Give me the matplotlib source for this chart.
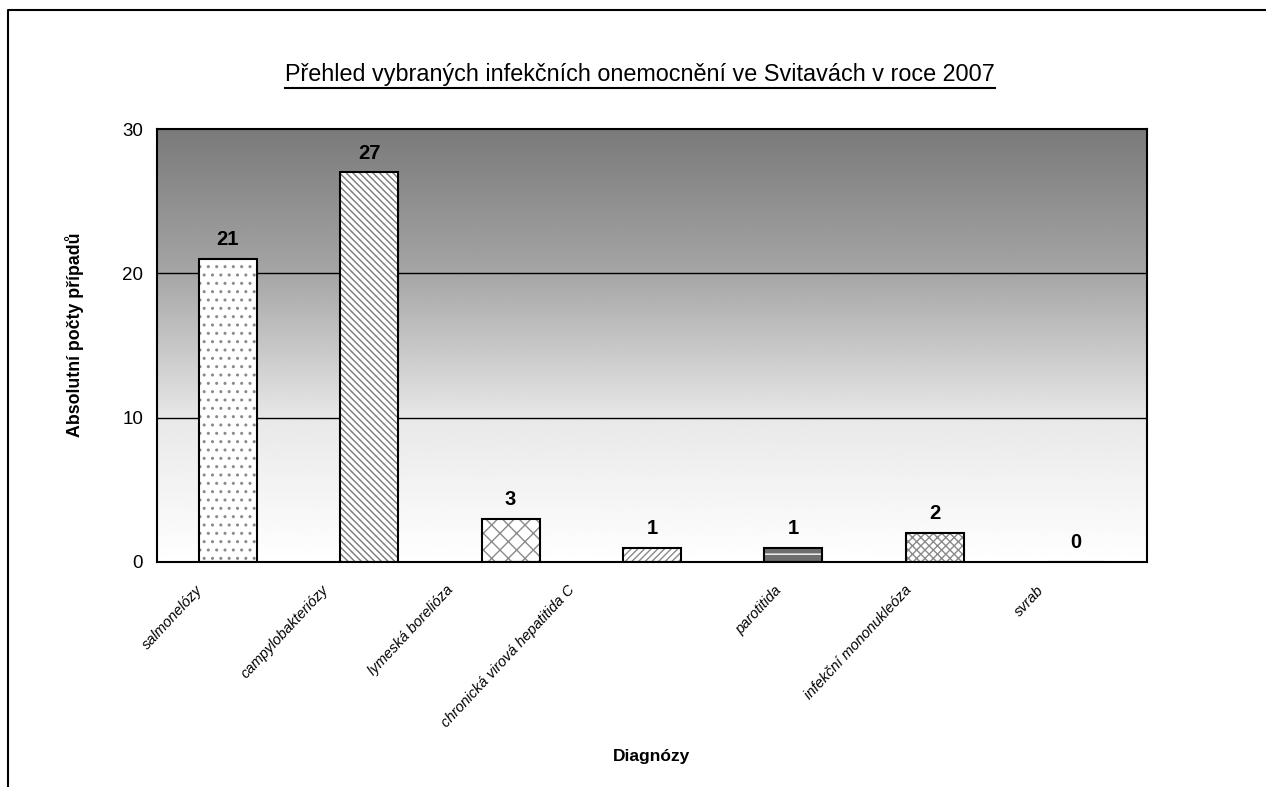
import matplotlib
matplotlib.use("Agg")
import matplotlib.pyplot as plt
import matplotlib.transforms as mtransforms
import numpy as np
from matplotlib.lines import Line2D

plt.rcParams["font.family"] = ["Liberation Sans", "DejaVu Sans"]
plt.rcParams["hatch.linewidth"] = 1.0

TITLE = "Přehled vybraných infekčních onemocnění ve Svitavách v roce 2007"
diagnozy = ["salmonelózy", "campylobakteriózy", "lymeská borelióza",
            "chronická virová hepatitida C", "parotitida",
            "infekční mononukleóza", "svrab"]
pocty = [21, 27, 3, 1, 1, 2, 0]
hatches = ["..", "\\\\\\\\\\", "xx", "/////", "--", "xxxx", ""]
fills = ["white", "white", "white", "white", "#6e6e6e", "white", "white"]
hatch_cols = ["#8a8a8a", "#7a7a7a", "#8a8a8a", "#8a8a8a", "white", "#8a8a8a", "#8a8a8a"]
yticks = [0, 10, 20, 30]
# horizontal shift (px) of each rotated category label relative to its tick
label_shift = [-32, -48, -65, -85, -19, -31, -40]

fig = plt.figure(figsize=(12.66, 7.87), dpi=100)
ax = fig.add_axes([157 / 1266, 1 - 562 / 787, 990 / 1266, 433 / 787])

x = np.arange(len(diagnozy))
ax.set_xlim(-0.5, len(diagnozy) - 0.5)
ax.set_ylim(0, 30)

# vertical gray gradient behind the bars
t = np.linspace(0, 1, 256)
shade = np.interp(t, [0, 0.33, 0.67, 1.0], [122, 165, 232, 255]) / 255.0
grad = np.repeat(shade[:, None], 2, axis=1)
ax.imshow(grad, cmap="gray", vmin=0, vmax=1, aspect="auto",
          extent=[-0.5, len(diagnozy) - 0.5, 0, 30], zorder=0, origin="upper")

for yv in yticks[1:-1]:
    ax.axhline(yv, color="black", lw=1.0, zorder=1)

w = 0.41
ax.bar(x, pocty, width=w, color=fills, edgecolor=hatch_cols, hatch=hatches,
       linewidth=0, zorder=2)
ax.bar(x, pocty, width=w, fill=False, edgecolor="black", linewidth=1.5, zorder=3)

for xi, v in zip(x, pocty):
    ax.annotate(str(v), (xi, v), xytext=(0, 7), textcoords="offset points",
                ha="center", va="bottom", fontsize=14.5, fontweight="bold", zorder=4)

for s in ax.spines.values():
    s.set_linewidth(1.5)
ax.set_yticks(yticks)
ax.set_xticks(x)
ax.set_xticklabels([])
ax.tick_params(axis="both", length=0)
ax.tick_params(axis="y", labelsize=13.5, pad=10)

# rotated category labels hanging below the axis
base = ax.get_xaxis_transform()
for xi, name, dx in zip(x, diagnozy, label_shift):
    off = mtransforms.ScaledTranslation(dx / 100, -21 / 100, fig.dpi_scale_trans)
    ax.text(xi, 0, name, transform=base + off, rotation=47,
            rotation_mode="anchor", ha="right", va="top",
            fontsize=10.5, style="italic")

fig.text(75 / 1266, 1 - 335 / 787, "Absolutní počty případů", rotation=90,
         ha="center", va="center", fontsize=12.8, fontweight="bold")
fig.text(651 / 1266, 1 - 757 / 787, "Diagnózy", ha="center", va="center",
         fontsize=12.5, fontweight="bold")

title = fig.text(640 / 1266, 1 - 75 / 787, TITLE, ha="center", va="center",
                 fontsize=16.8)
fig.canvas.draw()
bb = title.get_window_extent().transformed(fig.transFigure.inverted())
fig.add_artist(Line2D([bb.x0, bb.x1], [bb.y0 - 0.002, bb.y0 - 0.002],
                      transform=fig.transFigure, color="black", lw=1.5))

# outer chart frame (left and top edges)
fig.add_artist(Line2D([8 / 1266, 8 / 1266, 1.0], [0.0, 1 - 10 / 787, 1 - 10 / 787],
                      transform=fig.transFigure, color="black", lw=1.5))

fig.savefig("out.png", dpi=100)
